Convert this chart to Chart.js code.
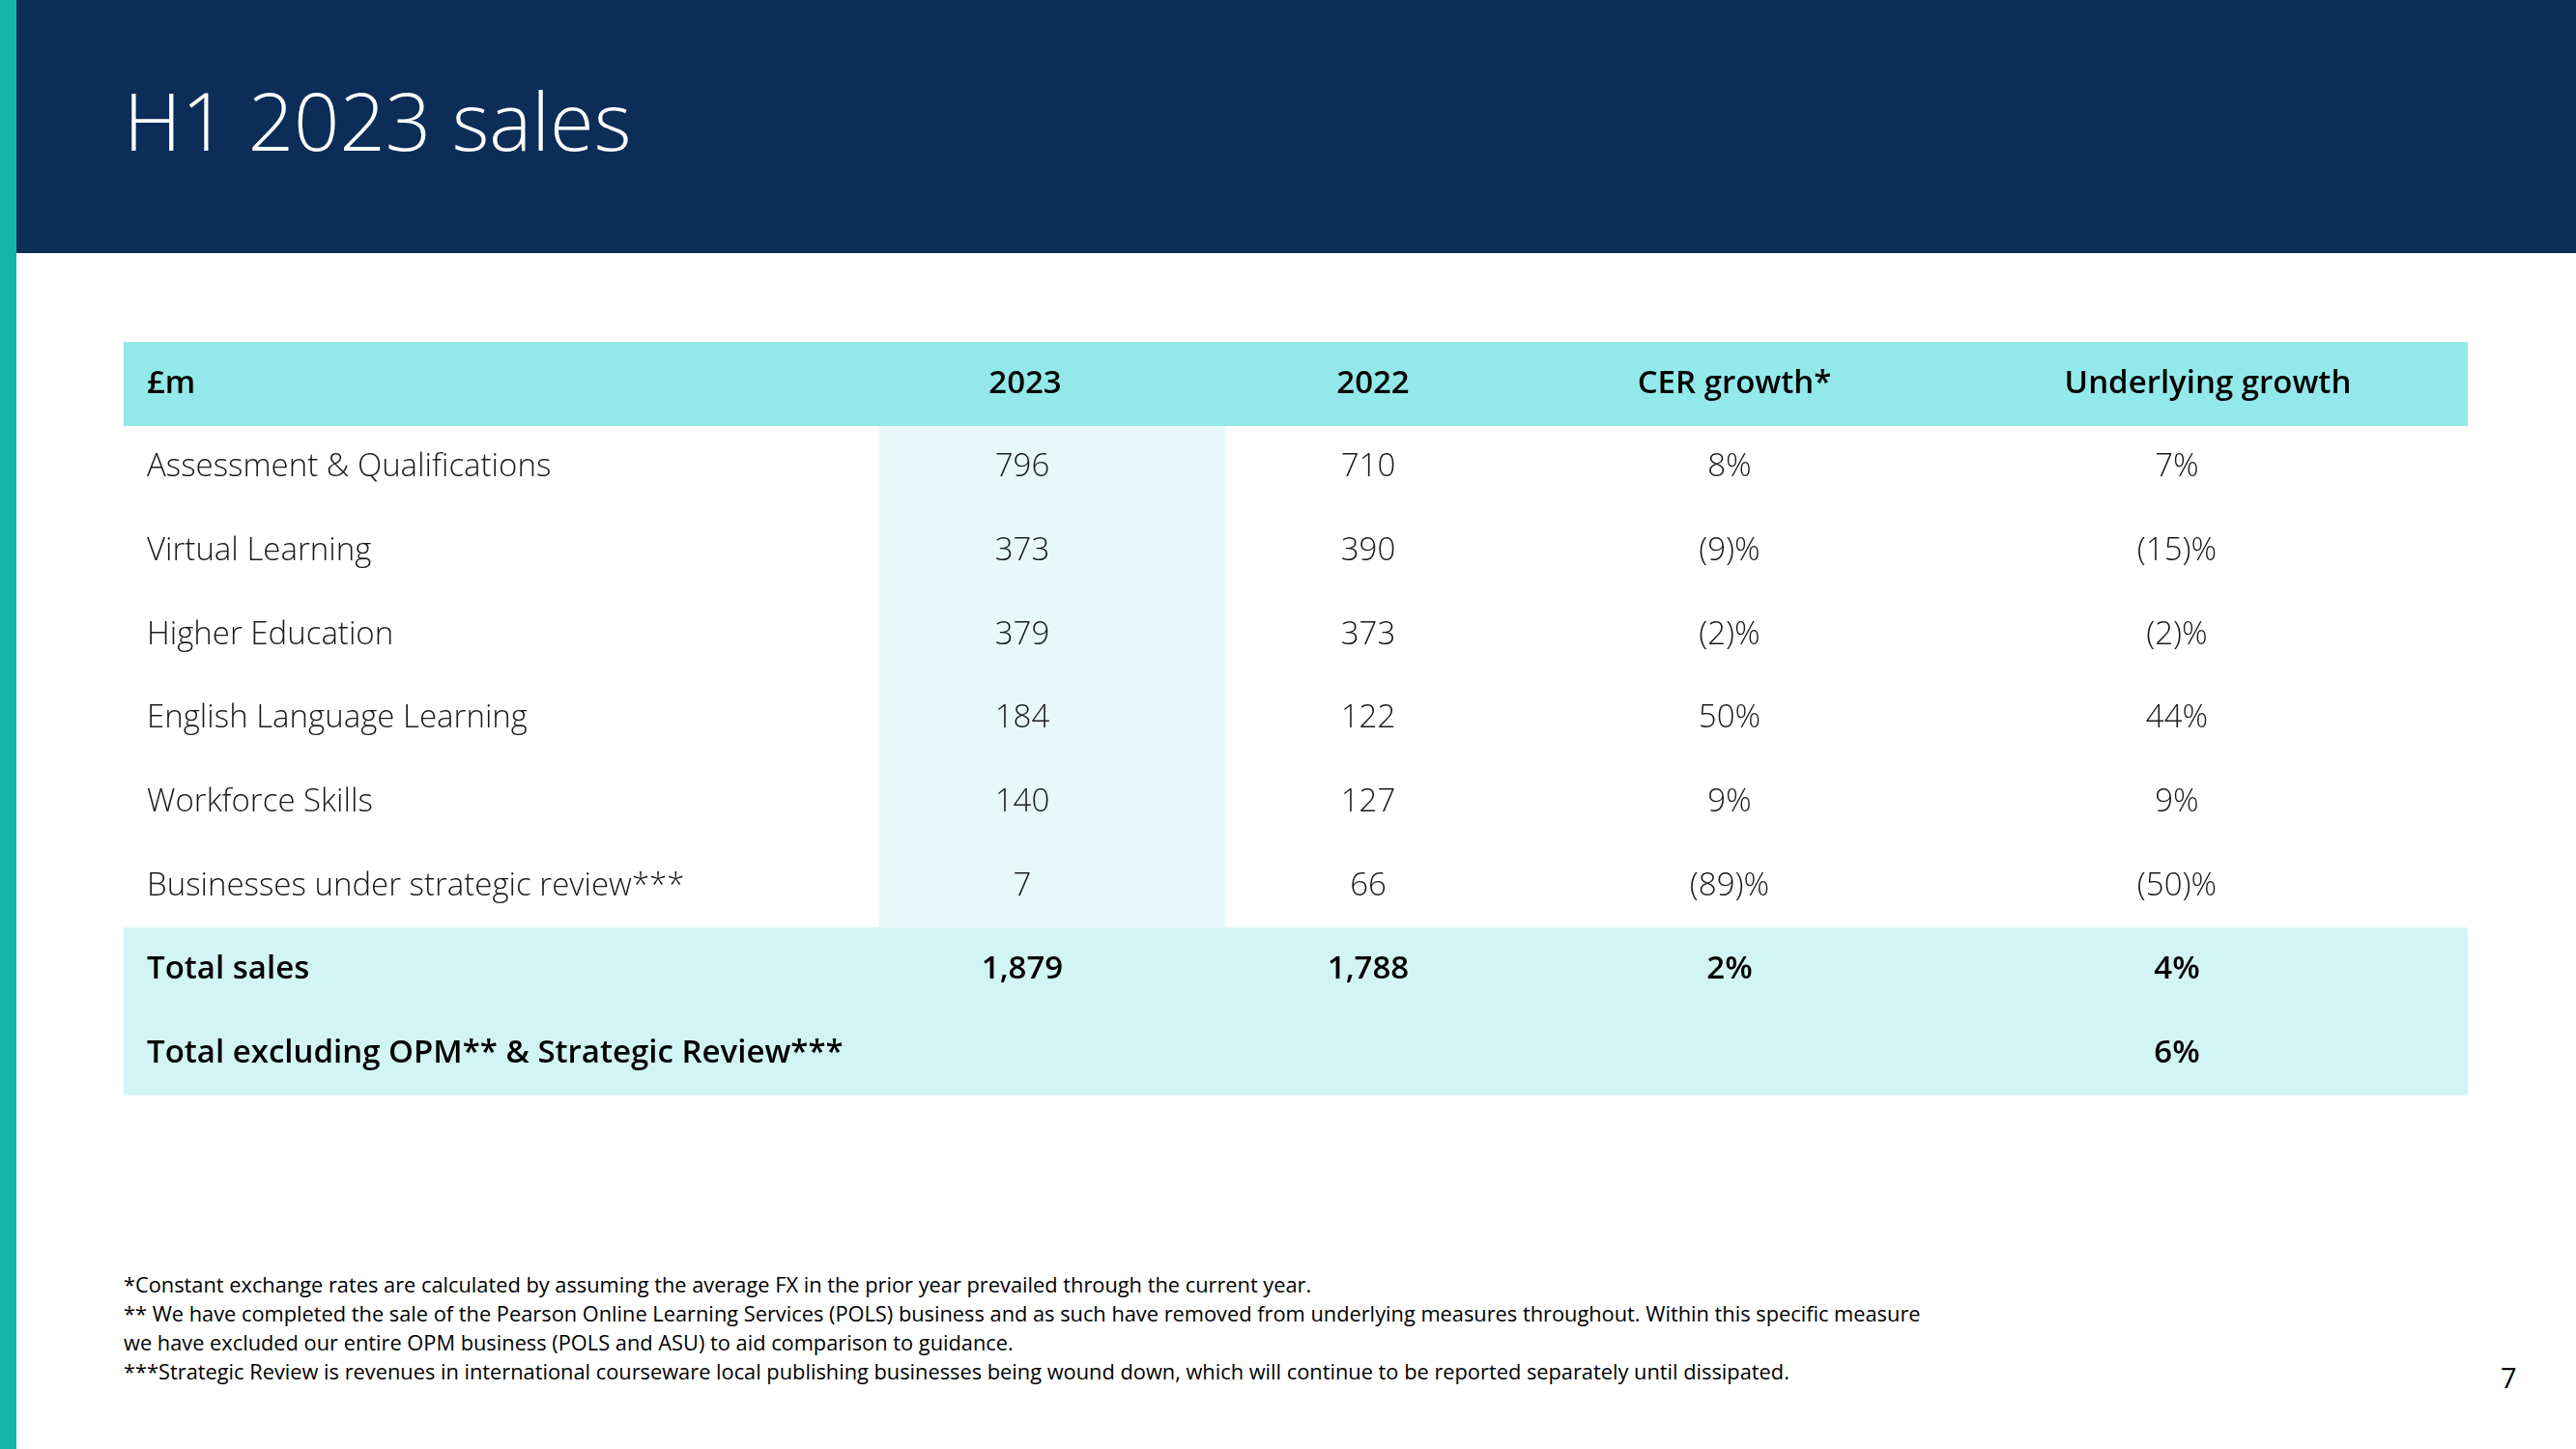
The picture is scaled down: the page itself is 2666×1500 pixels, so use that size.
<!DOCTYPE html>
<html>
<head>
<meta charset="utf-8">
<script src="https://cdn.jsdelivr.net/npm/chart.js@4/dist/chart.umd.min.js"></script>
<style>
    html, body { margin: 0; padding: 0; }
    body { width: 2666px; height: 1500px; position: relative; background: #fff; overflow: hidden; font-family: 'Open Sans', sans-serif; }
    .stripe { position: absolute; left: 0; top: 0; width: 17px; height: 1500px; background: #17b5a9; }
    .banner { position: absolute; left: 17px; top: 0; width: 2649px; height: 262px; background: #0c2d57; }
    .title { position: absolute; left: 128px; top: 82px; margin: 0; font-size: 83px; line-height: 84px; font-weight: 300; color: #fff; white-space: nowrap; }
    .table-wrap { position: absolute; left: 128px; top: 354px; width: 2426px; height: 780px; }
    .notes { position: absolute; left: 128px; top: 1315px; font-size: 21.8px; line-height: 30px; color: #000; white-space: nowrap; }
    .page { position: absolute; left: 2588px; top: 1411px; font-size: 29px; line-height: 29px; color: #000; }
</style>
</head>
<body>
<div class="stripe"></div>
<div class="banner"></div>
<h1 class="title">H1 2023 sales</h1>
<div class="table-wrap"><canvas id="salesTable" width="2426" height="780"></canvas></div>
<div class="notes">
    *Constant exchange rates are calculated by assuming the average FX in the prior year prevailed through the current year.<br>
    ** We have completed the sale of the Pearson Online Learning Services (POLS) business and as such have removed from underlying measures throughout. Within this specific measure<br>
    we have excluded our entire OPM business (POLS and ASU) to aid comparison to guidance.<br>
    ***Strategic Review is revenues in international courseware local publishing businesses being wound down, which will continue to be reported separately until dissipated.
</div>
<div class="page">7</div>

<script>
// Table data
const columnHeaders = ['£m', '2023', '2022', 'CER growth*', 'Underlying growth'];
const categories = [
    'Assessment & Qualifications',
    'Virtual Learning',
    'Higher Education',
    'English Language Learning',
    'Workforce Skills',
    'Businesses under strategic review***',
    'Total sales',
    'Total excluding OPM** & Strategic Review***',
];
const sales2023 = [796, 373, 379, 184, 140, 7, 1879, null];
const sales2022 = [710, 390, 373, 122, 127, 66, 1788, null];
const cerGrowth = [8, -9, -2, 50, 9, -89, 2, null];
const underlyingGrowth = [7, -15, -2, 44, 9, -50, 4, 6];

// Layout (x in table pixels)
const TABLE_W = 2426;
const labelX = 24;
const headerX = [labelX, 933, 1293, 1667, 2157];
const valueX = [labelX, 930, 1288, 1662, 2125];
const highlightCol = [782, 1140];
const FONT = "'Open Sans', 'Noto Sans', sans-serif";
const FONT_SIZE = 33;
const BOLD = '600 ';
const totalRows = 2;

const rowLabels = [columnHeaders[0], ...categories];
const isBoldRow = (i) => i === 0 || i > categories.length - totalRows;

const fmtMoney = (v) => (v == null ? '' : v.toLocaleString('en-GB'));
const fmtPct = (v) => (v == null ? '' : v < 0 ? '(' + Math.abs(v) + ')%' : v + '%');

const cellText = {
    id: 'cellText',
    afterDatasetsDraw(chart) {
        const { ctx, scales: { x, y } } = chart;
        ctx.save();
        ctx.textBaseline = 'middle';
        // header row
        ctx.fillStyle = '#000';
        ctx.font = BOLD + FONT_SIZE + 'px ' + FONT;
        columnHeaders.forEach((h, c) => {
            ctx.textAlign = c === 0 ? 'left' : 'center';
            ctx.fillText(h, x.getPixelForValue(headerX[c]), y.getPixelForValue(0));
        });
        // body rows
        const cols = [
            [categories, (v) => v],
            [sales2023, fmtMoney],
            [sales2022, fmtMoney],
            [cerGrowth, fmtPct],
            [underlyingGrowth, fmtPct],
        ];
        categories.forEach((cat, r) => {
            const row = r + 1;
            const bold = isBoldRow(row);
            ctx.font = (bold ? BOLD : '300 ') + FONT_SIZE + 'px ' + FONT;
            ctx.fillStyle = bold ? '#000' : '#1a1a1a';
            cols.forEach(([arr, fmt], c) => {
                ctx.textAlign = c === 0 ? 'left' : 'center';
                ctx.fillText(fmt(arr[r]), x.getPixelForValue(valueX[c]), y.getPixelForValue(row));
            });
        });
        ctx.restore();
    },
};

const drawTable = () => {
    new Chart('salesTable', {
        type: 'bar',
        plugins: [cellText],
        data: {
            labels: rowLabels,
            datasets: [
                {
                    // header and total rows
                    data: rowLabels.map((_, i) => (isBoldRow(i) ? [0, TABLE_W] : null)),
                    backgroundColor: rowLabels.map((_, i) => (i === 0 ? '#93e9ea' : '#d3f4f5')),
                    borderWidth: 0,
                    grouped: false,
                    barPercentage: 1,
                    categoryPercentage: 1,
                },
                {
                    // 2023 column shading
                    data: rowLabels.map((_, i) => (isBoldRow(i) ? null : highlightCol)),
                    backgroundColor: '#e8f8f9',
                    borderWidth: 0,
                    grouped: false,
                    barPercentage: 1,
                    categoryPercentage: 1,
                },
            ],
        },
        options: {
            indexAxis: 'y',
            responsive: false,
            animation: false,
            events: [],
            layout: { padding: 0, autoPadding: false },
            plugins: { legend: { display: false }, tooltip: { enabled: false } },
            scales: {
                x: { type: 'linear', min: 0, max: TABLE_W, display: false },
                y: { type: 'category', offset: true, display: false },
            },
        },
    });
};

Promise.all([
    document.fonts.load('300 33px "Open Sans"'),
    document.fonts.load('600 33px "Open Sans"'),
]).catch(() => {}).then(drawTable);
</script>
</body>
</html>
